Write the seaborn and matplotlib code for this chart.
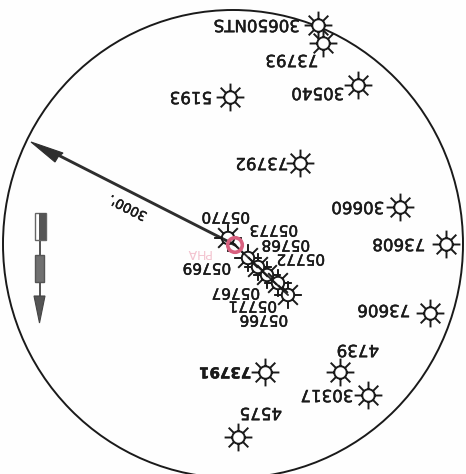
import matplotlib
matplotlib.use("Agg")
import matplotlib.pyplot as plt
import matplotlib.patheffects as pe
import numpy as np
import pandas as pd
import seaborn as sns
from matplotlib.path import Path
from matplotlib.patches import Ellipse, Polygon, Rectangle

# Station data (image-pixel coordinates)
star_x = [318, 323, 358, 230, 300, 400, 446, 430, 340, 368, 265, 238]
star_y = [25, 43, 85, 97, 163, 207, 244, 313, 372, 395, 372, 437]
cluster_x = [228, 248, 258, 267, 278, 288]
cluster_y = [238, 258, 267, 275, 283, 295]

label_text = ["30650NTS", "73793", "30540", "5193", "73792", "30660", "73608",
              "73606", "4739", "30317", "73791", "4575"]
label_x = [257, 292, 318, 191, 262, 358, 399, 384, 358, 327, 225, 261]
label_y = [25, 60, 93, 97, 163, 207, 244, 310, 350, 395, 372, 413]
label_bold = ["73791"]

cluster_text = ["05770", "05773", "05768", "05772", "05769", "05767", "05771", "05766"]
cluster_label_x = [226, 274, 286, 301, 207, 236, 253, 264]
cluster_label_y = [217, 230, 245, 259, 268, 293, 306, 320]

outline_center = (233, 244)
outline_size = (460, 468)
fault_start = (235, 245)
fault_neck = (60, 156)
fault_end = (288, 295)
fault_head = [(31, 142), (63, 153), (58, 157), (55, 162)]
fault_label = "3000'."
fault_label_pos = (128, 207)
fault_label_angle = 153
pink_label = "PHA"
pink_label_pos = (198, 252)
north_line = ([39.5, 39.5], [240, 300])
north_boxes = [(34.5, 213, 11, 27), (35, 255, 9, 27)]
north_head = [(34, 296), (45, 296), (39.5, 323)]


def star_marker(inner=0.45, n=8):
    verts, codes = [], []
    t = np.linspace(0, 2 * np.pi, 25)
    for i, a in enumerate(t):
        verts.append((inner * np.cos(a), inner * np.sin(a)))
        codes.append(Path.MOVETO if i == 0 else Path.LINETO)
    for a in np.arange(n) * 2 * np.pi / n:
        verts += [(inner * np.cos(a), inner * np.sin(a)), (np.cos(a), np.sin(a))]
        codes += [Path.MOVETO, Path.LINETO]
    return Path(verts, codes)


sns.set_style("white")
plt.rcParams["font.family"] = ["DejaVu Sans"]
ink = "#1a1a1a"
halo = [pe.withStroke(linewidth=0.35, foreground=ink)]

fig = plt.figure(figsize=(4.66, 4.74), dpi=100, facecolor="#fefefe")
ax = fig.add_axes([0, 0, 1, 1])

ax.add_patch(Ellipse(outline_center, *outline_size, fill=False, ec=ink, lw=1.4, zorder=1))

ax.plot([fault_start[0], fault_neck[0]], [fault_start[1], fault_neck[1]],
        color="#2e2e2e", lw=2.1, zorder=2)
ax.plot([fault_start[0], fault_end[0]], [fault_start[1], fault_end[1]],
        color="#2e2e2e", lw=1.4, zorder=2)
ax.add_patch(Polygon(fault_head, closed=True, fc="#2e2e2e", ec="#2e2e2e", lw=0.8, zorder=2))
ax.text(*fault_label_pos, fault_label, rotation=fault_label_angle, rotation_mode="anchor",
        ha="center", va="center", fontsize=9.5, color=ink, path_effects=halo)

# North arrow
ax.plot(*north_line, color="#444444", lw=1.3, zorder=2)
ax.add_patch(Rectangle(north_boxes[0][:2], north_boxes[0][2], north_boxes[0][3],
                       fc="#ffffff", ec="#666666", lw=1, zorder=3))
ax.add_patch(Rectangle((north_boxes[0][0] + 4, north_boxes[0][1]), 7, north_boxes[0][3],
                       fc="#555555", ec="none", zorder=3))
ax.add_patch(Rectangle(north_boxes[1][:2], north_boxes[1][2], north_boxes[1][3],
                       fc="#707070", ec="#555555", lw=1, zorder=3))
ax.add_patch(Polygon(north_head, closed=True, fc="#555555", ec="#444444", lw=0.8, zorder=3))

sns.scatterplot(data=pd.DataFrame({"x": star_x, "y": star_y}), x="x", y="y",
                marker=star_marker(), s=400, facecolor="white",
                edgecolor=ink, linewidth=1.4, ax=ax, legend=False, zorder=4)
sns.scatterplot(data=pd.DataFrame({"x": cluster_x, "y": cluster_y}), x="x", y="y",
                marker=star_marker(), s=400, facecolor="none",
                edgecolor=ink, linewidth=1.4, ax=ax, legend=False, zorder=4)
ax.set_xlim(0, 466)
ax.set_ylim(474, 0)
ax.axis("off")

# Pink highlight ring
ax.scatter([fault_start[0]], [fault_start[1]], s=110, facecolor="none",
           edgecolor="#d8607f", linewidth=2.6, zorder=5)
ax.text(*pink_label_pos, pink_label, rotation=180, ha="center", va="center",
        fontsize=9, color="#f3c3cf", zorder=1)

for txt, x, y in zip(label_text, label_x, label_y):
    bold = txt in label_bold
    ax.text(x, y, txt, rotation=180, ha="center", va="center",
            fontsize=10.8 if bold else 12, fontweight="bold" if bold else "normal",
            color=ink, zorder=6, path_effects=halo)
for txt, x, y in zip(cluster_text, cluster_label_x, cluster_label_y):
    ax.text(x, y, txt, rotation=180, ha="center", va="center",
            fontsize=11, color=ink, zorder=6, path_effects=halo)

fig.savefig("out.png", dpi=100, facecolor=fig.get_facecolor())
